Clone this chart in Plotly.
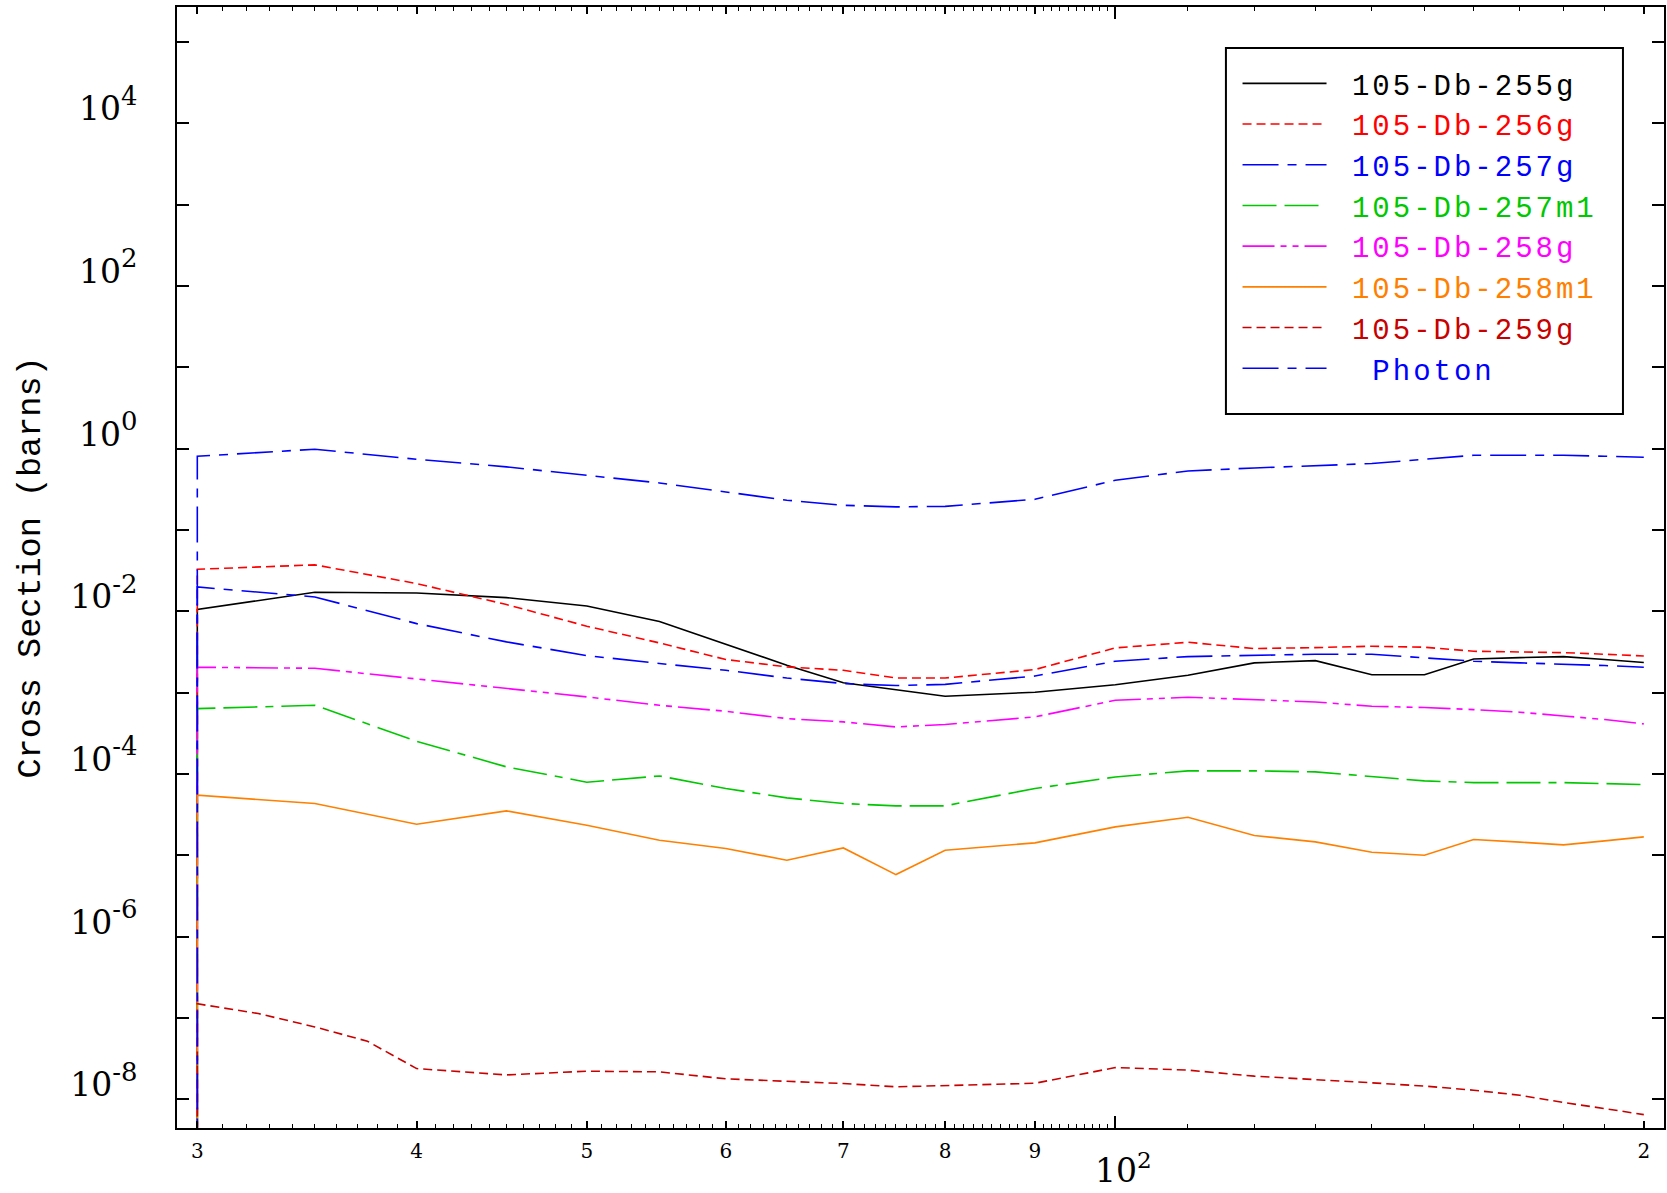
import plotly.graph_objects as go

# ---------------- data ----------------
energies = [30, 35, 40, 45, 50, 55, 60, 65, 70, 75, 80, 90, 100,
            110, 120, 130, 140, 150, 160, 170, 180, 190, 200]
energies_259g = [30, 32.5, 35, 37.5, 40, 45, 50, 55, 60, 65, 70, 75, 80, 90, 100,
                 110, 120, 130, 140, 150, 160, 170, 180, 190, 200]

# threshold point: every curve drops to (near) zero at the threshold energy
threshold_energy = 30
threshold_value = 1e-12

db255g = [0.0105, 0.0171, 0.0168, 0.0147, 0.0116, 0.00750, 0.00393, 0.00217, 0.00132,
          0.00109, 0.000902, 0.00101, 0.00125, 0.00163, 0.00232, 0.00247, 0.00166,
          0.00166, 0.00259, 0.00269, 0.00277, 0.00255, 0.00234]
db256g = [0.0328, 0.0372, 0.0219, 0.0121, 0.00655, 0.00408, 0.00255, 0.00207, 0.00188,
          0.00151, 0.00151, 0.00192, 0.00354, 0.00416, 0.00348, 0.00357, 0.00372,
          0.00361, 0.00322, 0.00316, 0.00310, 0.00296, 0.00282]
db257g = [0.0199, 0.0150, 0.00705, 0.00420, 0.00285, 0.00228, 0.00188, 0.00151, 0.00129,
          0.00122, 0.00126, 0.00160, 0.00243, 0.00277, 0.00288, 0.00296, 0.00296,
          0.00269, 0.00243, 0.00232, 0.00225, 0.00215, 0.00205]
db257m1 = [0.000635, 0.000698, 0.000252, 0.000122, 7.91e-5, 9.44e-5, 6.61e-5, 5.07e-5,
           4.32e-5, 4.05e-5, 4.05e-5, 6.61e-5, 9.18e-5, 0.000109, 0.000109, 0.000106,
           9.35e-5, 8.20e-5, 7.82e-5, 7.82e-5, 7.82e-5, 7.60e-5, 7.40e-5]
db258g = [0.00205, 0.00199, 0.00147, 0.00112, 0.000885, 0.000698, 0.000589, 0.000479,
          0.000436, 0.000378, 0.000405, 0.000502, 0.000805, 0.000877, 0.000820, 0.000767,
          0.000679, 0.000655, 0.000618, 0.000573, 0.000516, 0.000466, 0.000412]
db258m1 = [5.47e-5, 4.32e-5, 2.40e-5, 3.51e-5, 2.34e-5, 1.53e-5, 1.21e-5, 8.69e-6, 1.23e-5,
           5.78e-6, 1.15e-5, 1.42e-5, 2.23e-5, 2.93e-5, 1.75e-5, 1.46e-5, 1.09e-5, 1.00e-5,
           1.56e-5, 1.45e-5, 1.34e-5, 1.50e-5, 1.68e-5]
db259g = [1.49e-7, 1.13e-7, 7.74e-8, 5.16e-8, 2.38e-8, 1.99e-8, 2.21e-8, 2.17e-8, 1.78e-8,
          1.66e-8, 1.56e-8, 1.42e-8, 1.47e-8, 1.57e-8, 2.45e-8, 2.28e-8, 1.92e-8, 1.75e-8,
          1.59e-8, 1.45e-8, 1.29e-8, 1.12e-8, 9.10e-9, 7.67e-9, 6.47e-9]
photon = [0.805, 0.982, 0.740, 0.596, 0.470, 0.378, 0.293, 0.232, 0.201, 0.192, 0.195,
          0.238, 0.408, 0.531, 0.578, 0.612, 0.655, 0.740, 0.828, 0.828, 0.828, 0.805, 0.782]

series_names = ["105-Db-255g", "105-Db-256g", "105-Db-257g", "105-Db-257m1",
                "105-Db-258g", "105-Db-258m1", "105-Db-259g", "\u00a0Photon"]

x_major_vals = [30, 40, 50, 60, 70, 80, 90, 200]
x_major_text = ["3", "4", "5", "6", "7", "8", "9", "2"]
x_decade_vals = [100]
x_decade_text = ["10<sup>2</sup>"]
x_minor_vals = ([v for v in range(31, 100) if v % 10 != 0] +
                [110, 120, 130, 140, 150, 160, 170, 180, 190])
y_exponents = list(range(-8, 6))

# ---------------- styles ----------------
colors = ["#000000", "#FF0000", "#0000FF", "#00C800", "#FF00FF", "#FF8000", "#C80000", "#0000FF"]
dashes = ["solid", "9px,5px", "36px,9px,9px,9px", "34px,8px,34px,8px,8px,8px",
          "32px,6px,6px,6px,6px,6px", "solid", "9px,5px", "36px,9px,9px,9px"]

xs = [energies, energies, energies, energies, energies, energies, energies_259g, energies]
ys = [db255g, db256g, db257g, db257m1, db258g, db258m1, db259g, photon]

serif = "DejaVu Serif"
mono = "Liberation Mono"
XRANGE = [1.46556, 2.31253]
YRANGE = [-8.354, 5.430]

fig = go.Figure()
for name, x, y, c, d in zip(series_names, xs, ys, colors, dashes):
    label = (f'<span style="color:{c};letter-spacing:3px">'
             f'\u00a0{name}</span>')
    fig.add_trace(go.Scatter(
        x=[threshold_energy] + x,
        y=[threshold_value] + y,
        mode="lines",
        name=label,
        line=dict(color=c, width=1.6, dash=d),
        hoverinfo="skip",
    ))

# invisible helper trace so the decade-tick axis (x2) is drawn
fig.add_trace(go.Scatter(x=energies, y=photon, xaxis="x2", mode="lines",
                         line=dict(width=0), opacity=0, showlegend=False,
                         hoverinfo="skip"))

y_text = []
for e in y_exponents:
    if e % 2 == 0:
        y_text.append(f'<span style="font-size:33px">10</span><sup>{e}</sup>')
    else:
        y_text.append("")

fig.update_layout(
    width=1667, height=1193,
    margin=dict(l=177, r=3, t=7, b=65),
    paper_bgcolor="white", plot_bgcolor="white",
    showlegend=True,
    legend=dict(
        x=0.7132, y=0.9545, xanchor="left", yanchor="top",
        borderwidth=0, bgcolor="rgba(0,0,0,0)",
        font=dict(family=mono, size=29, color="black"),
        itemwidth=84, tracegroupgap=0,
    ),
    shapes=[dict(type="rect", xref="paper", yref="paper",
                 x0=0.7054, x1=0.9724, y0=0.6369, y1=0.9634,
                 line=dict(color="black", width=2), fillcolor="rgba(0,0,0,0)",
                 layer="above")],
    xaxis=dict(
        type="log", range=XRANGE, automargin=False,
        showgrid=False, zeroline=False,
        showline=True, linecolor="black", linewidth=2, mirror="ticks",
        ticks="inside", ticklen=7, tickwidth=1.5, tickcolor="black",
        tickmode="array", tickvals=x_major_vals, ticktext=x_major_text,
        tickfont=dict(family=serif, size=20, color="black"),
        ticklabelstandoff=4,
        minor=dict(tickmode="array", tickvals=x_minor_vals, ticks="inside",
                   ticklen=4, tickwidth=1.2, tickcolor="black"),
    ),
    xaxis2=dict(
        type="log", range=XRANGE, overlaying="x", anchor="y", side="bottom",
        automargin=False,
        showgrid=False, zeroline=False, showline=False, mirror="ticks",
        ticks="inside", ticklen=12, tickwidth=1.5, tickcolor="black",
        tickmode="array", tickvals=x_decade_vals, ticktext=x_decade_text,
        tickfont=dict(family=serif, size=33, color="black"),
        ticklabelstandoff=20, ticklabelshift=8,
    ),
    yaxis=dict(
        type="log", range=YRANGE, automargin=False,
        showgrid=False, zeroline=False,
        showline=True, linecolor="black", linewidth=2, mirror="ticks",
        ticks="inside", ticklen=12, tickwidth=1.5, tickcolor="black",
        tickmode="array", tickvals=[10.0 ** e for e in y_exponents], ticktext=y_text,
        tickfont=dict(family=serif, size=37, color="black"),
        ticklabelstandoff=30, ticklabelshift=-16,
        title=dict(text="Cross Section (barns)",
                   font=dict(family=mono, size=33.5, color="black"), standoff=20),
    ),
)

fig.write_html(
    "out.html",
    config={"displayModeBar": False},
    post_script="document.body.style.margin='0px';document.body.style.overflow='hidden';",
)
